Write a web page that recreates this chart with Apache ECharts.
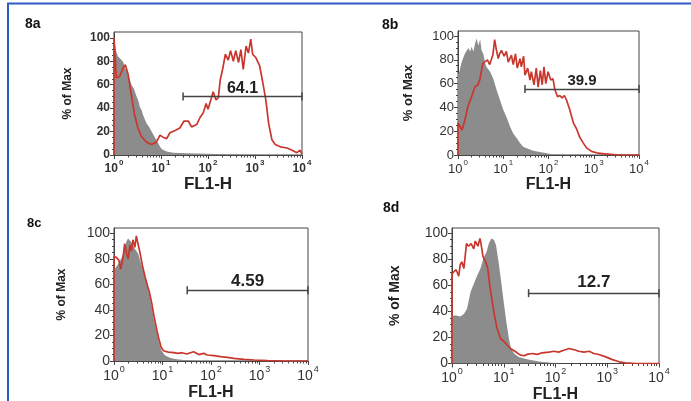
<!DOCTYPE html>
<html><head><meta charset="utf-8">
<script src="https://cdn.jsdelivr.net/npm/echarts@6/dist/echarts.min.js"></script>
<style>html,body{margin:0;padding:0;background:#fff}#c{width:691px;height:401px}</style>
</head><body><div id="c"></div>
<script>
// ---- data (x in decades of FL1-H, y in % of Max) ----
const panelNames = ['8a', '8b', '8c', '8d'];
const yTicks = [0, 20, 40, 60, 80, 100];
const xAxisName = 'FL1-H';
const yAxisName = '% of Max';
const gateLabels = ['64.1', '39.9', '4.59', '12.7'];
const gateA = [1.47, 4, 50];
const gateB = [1.48, 4, 55.5];
const gateC = [1.51, 4, 55.5];
const gateD = [1.48, 4, 54];

const grayA = [[0,100],[0.02,95],[0.05,88],[0.085,84],[0.12,85],[0.16,81],[0.2,79],[0.23,74],[0.27,72],[0.30,67],[0.34,64],[0.37,60],[0.42,57],[0.48,50],[0.52,46],[0.55,41],[0.59,38],[0.62,34],[0.66,30],[0.69,27],[0.73,25],[0.76,23],[0.8,20],[0.83,19],[0.87,15],[0.90,13],[0.94,10],[0.98,7],[1.02,5],[1.05,4],[1.12,3],[1.26,2],[1.4,1.8],[1.54,1.5],[1.75,1.2],[1.97,1],[2.2,0.8],[2.54,0.5],[2.9,0.3],[3.25,0],[4,0]];
const redA = [[0,0],[0,100],[0.05,66],[0.12,67],[0.19,74],[0.24,77],[0.30,69],[0.37,51],[0.44,34],[0.51,23],[0.58,16],[0.69,11],[0.80,9],[0.90,11],[0.98,17],[1.05,15],[1.12,14],[1.19,19],[1.30,21],[1.40,23],[1.49,29],[1.58,29],[1.65,24],[1.76,26],[1.83,32],[1.90,36],[1.96,44],[2.0,39],[2.06,47],[2.11,54],[2.17,47],[2.22,49],[2.26,64],[2.31,73],[2.37,86],[2.43,81],[2.48,89],[2.54,80],[2.59,89],[2.65,79],[2.70,90],[2.75,73],[2.81,93],[2.86,87],[2.91,99],[2.95,86],[3.02,83],[3.10,76],[3.17,61],[3.23,47],[3.29,27],[3.36,13],[3.43,9],[3.54,7],[3.68,6],[3.79,4],[3.89,2],[3.96,4],[4.0,1]];

const grayB = [[0,68],[0.03,70],[0.08,78],[0.15,85],[0.23,90],[0.27,87],[0.30,91],[0.34,87],[0.38,94],[0.41,98],[0.45,92],[0.49,97],[0.52,88],[0.56,85],[0.60,77],[0.63,74],[0.71,70],[0.78,64],[0.85,55],[0.93,46],[1.0,38],[1.08,31],[1.15,24],[1.22,18],[1.30,14],[1.37,10],[1.44,7],[1.52,5.6],[1.66,3.6],[1.81,2.5],[1.96,1.4],[2.1,0.5],[2.4,0],[4,0]];
const redB = [[0,0],[0,27],[0.01,27],[0.09,21],[0.15,29],[0.22,41],[0.30,49],[0.37,57],[0.44,59],[0.48,63],[0.55,77],[0.59,76],[0.65,80],[0.70,76],[0.77,84],[0.81,97],[0.85,88],[0.89,81],[0.92,85],[0.96,88],[1.02,83],[1.07,87],[1.11,78],[1.18,84],[1.22,76],[1.27,85],[1.31,73],[1.37,81],[1.40,74],[1.45,83],[1.48,67],[1.54,73],[1.59,63],[1.62,70],[1.68,59],[1.73,73],[1.77,57],[1.82,71],[1.86,59],[1.90,74],[1.94,60],[1.99,70],[2.05,63],[2.10,64],[2.14,55],[2.20,49],[2.25,50],[2.30,48],[2.35,50],[2.40,46],[2.47,38],[2.55,27],[2.62,22],[2.69,15],[2.77,10],[2.84,6],[2.95,3],[3.10,1.5],[3.25,1],[3.54,0],[4,0]];

const grayC = [[0,71],[0.05,74],[0.12,78],[0.19,84],[0.26,94],[0.29,96],[0.36,93],[0.43,88],[0.50,84],[0.53,80],[0.60,71],[0.67,61],[0.73,52],[0.78,42],[0.82,33],[0.88,23],[0.93,14],[0.98,8],[1.05,4.5],[1.16,2.4],[1.29,1.3],[1.50,0.5],[1.78,0],[4,0]];
const redC = [[0,0],[0,82],[0.05,81],[0.10,79],[0.14,72],[0.19,82],[0.22,92],[0.26,84],[0.29,80],[0.33,91],[0.36,86],[0.39,95],[0.43,89],[0.46,98],[0.50,91],[0.53,86],[0.59,74],[0.64,66],[0.69,59],[0.73,54],[0.78,45],[0.82,36],[0.88,25],[0.92,18],[0.97,11],[1.02,8],[1.12,7],[1.23,6.5],[1.32,6],[1.40,6.5],[1.50,5.5],[1.64,7.3],[1.75,5],[1.85,6],[1.92,4.7],[2.06,4.2],[2.20,3.4],[2.34,2.9],[2.47,2],[2.68,1.3],[2.89,0.8],[3.17,0.3],[3.51,0],[4,0]];

const grayD = [[0,36],[0.06,37],[0.16,36],[0.23,38],[0.29,42],[0.36,55],[0.42,61],[0.48,67],[0.55,73],[0.61,81],[0.67,86],[0.71,92],[0.76,96],[0.81,95],[0.85,91],[0.90,78],[0.95,63],[1.0,47],[1.05,32],[1.10,19],[1.14,11.5],[1.20,7.7],[1.29,5],[1.39,3.8],[1.52,2.6],[1.71,1.3],[1.91,0.5],[2.10,0],[4,0]];
const redD = [[0,0],[0,69],[0.03,68],[0.08,72],[0.13,67],[0.16,76],[0.19,78],[0.23,73],[0.28,92],[0.32,90],[0.37,92],[0.42,88],[0.45,94],[0.50,90],[0.54,96],[0.56,92],[0.60,82],[0.65,78],[0.69,73],[0.73,60],[0.78,47],[0.82,37],[0.87,27],[0.94,19],[1.0,17],[1.07,14],[1.13,11.5],[1.23,9],[1.32,6.4],[1.40,6],[1.45,7],[1.55,7.7],[1.65,7],[1.74,8.2],[1.87,8.7],[1.97,9.4],[2.06,8.7],[2.16,10.2],[2.26,11.5],[2.35,10.7],[2.45,9.4],[2.55,8.7],[2.65,9.4],[2.74,7.7],[2.84,6.9],[2.97,5.1],[3.10,3],[3.23,1.3],[3.35,0.5],[3.55,0],[4,0]];

// ---- layout / style ----
const FONT = 'Liberation Sans, Arial, sans-serif';
const GRAY = '#8c8c8c';
const RED = '#c8372d';
const panels = [
  {gray: grayA, red: redA, gate: gateA, grid: {left: 114, top: 32, width: 188, height: 123}, ymax: 105,
   tick: 12, tickBold: 'bold', yName: 12, yGap: 40, xName: 17, xGap: 11, gateFont: 16, gateDist: 0, title: [25, 17, 14]},
  {gray: grayB, red: redB, gate: gateB, grid: {left: 458, top: 31, width: 181, height: 124}, ymax: 104.2,
   tick: 13, tickBold: 'normal', yName: 13, yGap: 43, xName: 16, xGap: 20, gateFont: 15, gateDist: 1, title: [382, 18, 14]},
  {gray: grayC, red: redC, gate: gateC, grid: {left: 114, top: 228, width: 194, height: 133}, ymax: 104.2,
   tick: 14, tickBold: 'normal', yName: 12, yGap: 46, xName: 16, xGap: 24, gateFont: 17, gateDist: 0, title: [27, 217, 13]},
  {gray: grayD, red: redD, gate: gateD, grid: {left: 452, top: 228, width: 207, height: 135.5}, ymax: 104,
   tick: 14, tickBold: 'normal', yName: 14, yGap: 50, xName: 16, xGap: 22, gateFont: 17, gateDist: 2, title: [383, 201, 14]}
];
const toX = d => Math.pow(10, d);
const conv = arr => arr.map(p => [toX(p[0]), p[1]]);

const option = {
  animation: false,
  backgroundColor: '#fff',
  title: [], grid: [], xAxis: [], yAxis: [], series: [],
  graphic: [{type: 'polyline', shape: {points: [[8, 401], [8, 3.5], [691, 3.5]]},
             style: {stroke: '#2d5cc6', lineWidth: 2, fill: null}}]
};

panels.forEach((p, i) => {
  option.title.push({text: panelNames[i], left: p.title[0], top: p.title[1], padding: 0,
    textStyle: {fontFamily: FONT, fontSize: p.title[2], fontWeight: 'bold', color: '#111'}});
  option.grid.push(Object.assign({show: true, borderColor: '#444', borderWidth: 1, backgroundColor: 'transparent',
    containLabel: false, outerBoundsMode: 'none'}, p.grid));
  option.xAxis.push({
    type: 'log', logBase: 10, gridIndex: i, min: 1, max: 10000,
    name: xAxisName, nameLocation: 'middle', nameGap: p.xGap,
    nameTextStyle: {fontFamily: FONT, fontSize: p.xName, fontWeight: 'bold', color: '#222'},
    axisLine: {show: true, onZero: false, lineStyle: {color: '#444', width: 1}},
    axisTick: {show: true, length: 4, lineStyle: {color: '#444'}},
    minorTick: {show: true, splitNumber: 9, length: 2.5, lineStyle: {color: '#444'}},
    splitLine: {show: false}, minorSplitLine: {show: false},
    axisLabel: {margin: 4, color: '#333', fontFamily: FONT,
      formatter: v => '{b|10}{s|' + Math.round(Math.log10(v)) + '}',
      rich: {b: {fontSize: p.tick, fontWeight: p.tickBold, fontFamily: FONT, color: '#333', verticalAlign: 'bottom', lineHeight: p.tick + 4},
             s: {fontSize: Math.round(p.tick * 0.65), fontWeight: p.tickBold, fontFamily: FONT, color: '#333', verticalAlign: 'top', lineHeight: p.tick + 4, padding: [0, 0, 0, 1]}}}
  });
  option.yAxis.push({
    type: 'value', gridIndex: i, min: 0, max: p.ymax, interval: 20,
    name: yAxisName, nameLocation: 'middle', nameGap: p.yGap,
    nameTextStyle: {fontFamily: FONT, fontSize: p.yName, fontWeight: 'bold', color: '#222'},
    axisLine: {show: true, lineStyle: {color: '#444', width: 1}},
    axisTick: {show: true, length: 4, customValues: yTicks, lineStyle: {color: '#444'}},
    minorTick: {show: true, splitNumber: 4, length: 2, lineStyle: {color: '#444'}},
    splitLine: {show: false},
    axisLabel: {margin: 4, customValues: yTicks, fontFamily: FONT, fontSize: p.tick, fontWeight: p.tickBold, color: '#333'}
  });
  option.series.push({
    type: 'line', xAxisIndex: i, yAxisIndex: i, data: conv(p.gray), symbol: 'none', silent: true,
    lineStyle: {width: 0}, areaStyle: {color: GRAY, opacity: 1}, z: 2
  });
  option.series.push({
    type: 'line', xAxisIndex: i, yAxisIndex: i, data: conv(p.red), symbol: 'none', silent: true,
    lineStyle: {color: RED, width: 1.7}, z: 3,
    markLine: {
      silent: true, symbol: ['rect', 'rect'], symbolSize: [8, 1.5],
      lineStyle: {color: '#444', width: 1.4, type: 'solid'},
      label: {show: true, position: 'insideMiddleTop', distance: p.gateDist, formatter: gateLabels[i],
        fontFamily: FONT, fontSize: p.gateFont, fontWeight: 'bold', color: '#222'},
      data: [[{coord: [toX(p.gate[0]), p.gate[2]]}, {coord: [toX(p.gate[1]), p.gate[2]]}]]
    }
  });
});

const chart = echarts.init(document.getElementById('c'), null, {renderer: 'canvas'});
chart.setOption(option);
</script>
</body></html>
